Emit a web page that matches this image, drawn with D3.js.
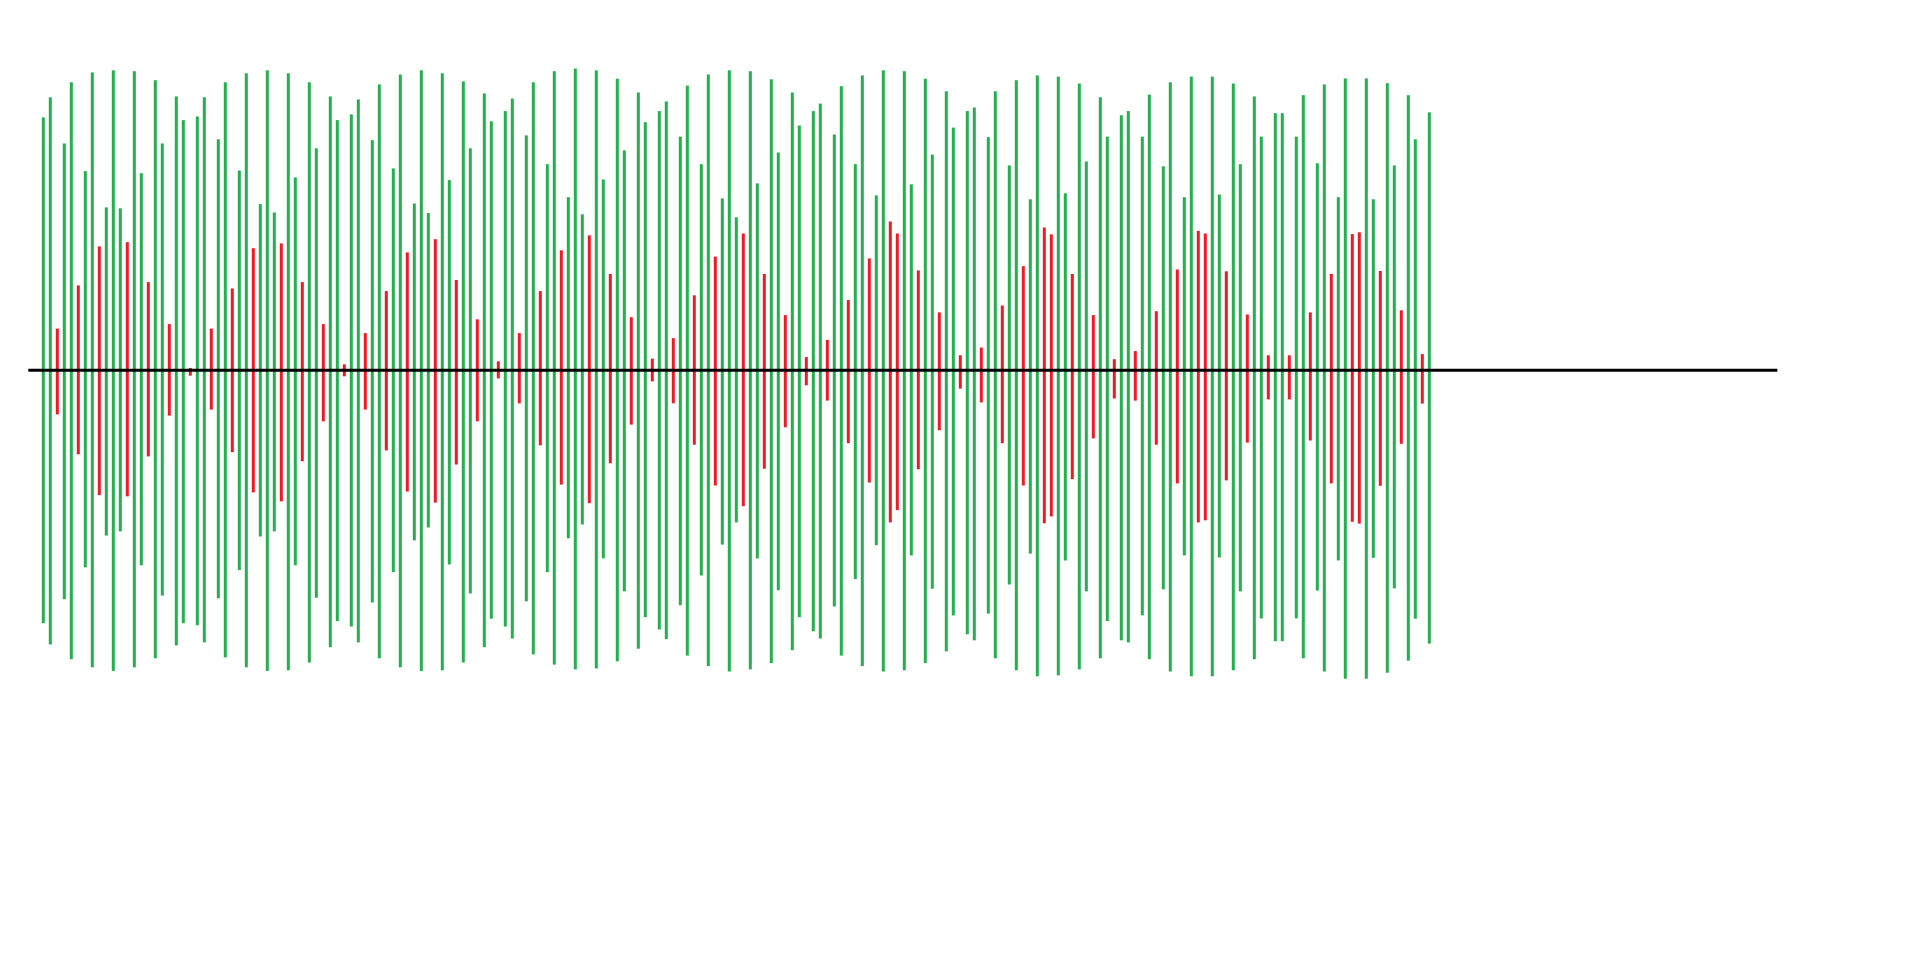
<!DOCTYPE html>
<html>
<head>
<meta charset="utf-8">
<script src="https://cdn.jsdelivr.net/npm/d3@7"></script>
<style>
  html, body { margin: 0; padding: 0; background: #ffffff; }
  svg { display: block; }
</style>
</head>
<body>
<script>
// Upper extent of each bar (value above the baseline), bars 1..199
const upper = [
  84.3, 91.0, 13.9, 75.6, 96.0, 28.3, 66.4, 99.3, 41.3, 54.3,
  100.0, 54.0, 42.7, 99.7, 65.7, 29.4, 96.7, 75.6, 15.4, 91.3,
  83.4, 0.8, 84.6, 91.0, 13.9, 77.0, 96.0, 27.3, 66.6, 99.0,
  40.7, 55.4, 100.0, 52.6, 42.3, 99.0, 64.3, 29.4, 96.0, 74.0,
  15.4, 91.3, 83.4, 2.0, 85.3, 90.3, 12.4, 76.7, 95.3, 26.4,
  67.3, 98.6, 39.3, 55.6, 100.0, 52.4, 43.7, 99.0, 63.4, 30.1,
  96.3, 74.0, 17.0, 92.3, 83.0, 3.0, 86.4, 90.6, 12.4, 78.3,
  96.0, 26.4, 68.7, 99.7, 40.0, 57.7, 100.6, 52.0, 45.0, 100.0,
  63.6, 32.1, 97.2, 73.3, 17.7, 92.6, 82.7, 3.9, 86.4, 89.6,
  10.7, 77.9, 94.9, 25.0, 68.7, 98.6, 37.9, 57.3, 100.0, 51.0,
  45.6, 99.7, 62.3, 32.1, 97.0, 72.6, 18.4, 92.6, 81.6, 4.4,
  86.4, 88.9, 10.1, 78.6, 94.7, 23.4, 68.7, 98.3, 37.3, 58.3,
  100.0, 49.6, 45.6, 99.7, 62.0, 33.3, 97.2, 71.9, 19.3, 93.0,
  80.9, 5.0, 86.4, 87.6, 7.6, 77.7, 93.0, 21.6, 68.3, 96.7,
  34.7, 57.0, 98.3, 47.6, 45.3, 97.9, 59.0, 32.1, 95.6, 69.6,
  18.4, 91.0, 77.9, 3.7, 85.0, 86.4, 6.4, 77.9, 91.9, 19.7,
  68.0, 96.0, 33.6, 57.7, 97.9, 46.5, 45.6, 97.9, 58.6, 33.0,
  95.6, 68.7, 18.6, 91.3, 77.9, 5.0, 85.7, 85.7, 5.0, 77.9,
  91.7, 19.3, 69.0, 95.3, 32.1, 57.7, 97.3, 45.4, 46.0, 97.3,
  57.0, 33.1, 95.7, 68.3, 20.0, 91.7, 77.0, 5.4, 86.0
];

// Lower extent of each bar (value below the baseline), bars 1..199
const lower = [
  -84.3, -91.4, -14.7, -76.3, -96.3, -28.0, -65.7, -99.0, -41.6, -55.1,
  -100.2, -53.7, -42.0, -99.0, -65.0, -28.7, -96.0, -75.1, -15.1, -91.7,
  -84.3, -1.8, -85.0, -90.7, -13.1, -76.0, -95.7, -27.3, -66.6, -99.0,
  -40.7, -55.4, -100.2, -53.7, -43.7, -100.0, -65.0, -30.3, -97.4, -75.8,
  -17.0, -92.3, -83.6, -2.0, -85.4, -90.7, -13.1, -77.4, -96.0, -26.7,
  -67.3, -99.0, -40.4, -56.7, -100.2, -52.4, -44.1, -100.0, -64.7, -31.4,
  -97.4, -74.4, -17.0, -92.3, -82.8, -2.7, -85.4, -89.4, -11.0, -77.0,
  -94.7, -25.0, -67.3, -98.1, -38.1, -56.0, -99.7, -51.4, -44.3, -99.4,
  -62.7, -31.0, -97.0, -73.7, -18.1, -92.8, -82.3, -3.7, -86.4, -89.6,
  -11.0, -78.3, -95.1, -24.8, -68.4, -98.6, -38.4, -58.1, -100.4, -50.7,
  -45.3, -99.7, -62.7, -32.8, -97.6, -73.3, -19.0, -93.3, -82.3, -5.0,
  -87.0, -89.4, -10.1, -78.7, -95.1, -24.3, -69.6, -98.6, -37.4, -58.3,
  -100.4, -50.7, -46.6, -100.0, -61.7, -33.0, -97.6, -72.8, -20.0, -93.7,
  -81.7, -6.1, -88.0, -90.0, -10.7, -81.1, -96.0, -24.3, -71.4, -100.0,
  -38.4, -61.1, -102.0, -51.0, -48.7, -101.7, -63.4, -36.3, -99.7, -73.7,
  -22.7, -96.0, -83.6, -9.4, -90.0, -90.7, -10.1, -81.7, -96.3, -24.8,
  -73.0, -100.4, -37.7, -61.7, -102.0, -50.7, -50.0, -102.0, -62.4, -36.7,
  -100.0, -73.7, -24.1, -96.3, -82.7, -9.7, -90.3, -90.3, -9.7, -82.7,
  -96.0, -23.4, -73.4, -100.4, -37.7, -63.4, -102.8, -50.5, -51.1, -102.8,
  -62.5, -38.5, -100.8, -72.7, -24.5, -96.8, -82.8, -11.1, -91.1
];

// Bars (1-based index) drawn in red; all others are green
const redBars = [
  3, 6, 9, 13, 16, 19, 22, 25, 28, 31, 35, 38, 41, 44, 47, 50, 53, 57, 60, 63,
  66, 69, 72, 75, 79, 82, 85, 88, 91, 94, 97, 101, 104, 107, 110, 113, 116, 119,
  122, 123, 126, 129, 132, 135, 138, 141, 144, 145, 148, 151, 154, 157, 160, 163,
  166, 167, 170, 173, 176, 179, 182, 185, 188, 189, 192, 195, 198
];

const seriesColors = { up: "#22b14c", down: "#ed1c24" };

const W = 1913, H = 962;
const redSet = new Set(redBars);
const bars = upper.map((u, i) => ({
  idx: i + 1,
  hi: u,
  lo: lower[i],
  kind: redSet.has(i + 1) ? "down" : "up"
}));

const svg = d3.select("body").append("svg")
  .attr("width", W).attr("height", H);

svg.append("rect").attr("width", W).attr("height", H).attr("fill", "#ffffff");

const x = d3.scaleLinear().domain([1, bars.length]).range([43.3, 1429.3]);
const y = d3.scaleLinear().domain([-100, 100]).range([670.3, 70.3]);

const barW = 3;

svg.append("g")
  .selectAll("rect")
  .data(bars)
  .join("rect")
  .attr("x", d => x(d.idx) - barW / 2)
  .attr("y", d => y(d.hi))
  .attr("width", barW)
  .attr("height", d => y(d.lo) - y(d.hi))
  .attr("fill", d => seriesColors[d.kind]);

// Baseline, extending from x(-1.14) to x(248.71)
const baseline = [-1.143, 248.714];
svg.append("line")
  .attr("x1", x(baseline[0]))
  .attr("x2", x(baseline[1]))
  .attr("y1", y(0))
  .attr("y2", y(0))
  .attr("stroke", "#000000")
  .attr("stroke-width", 3);
</script>
</body>
</html>
